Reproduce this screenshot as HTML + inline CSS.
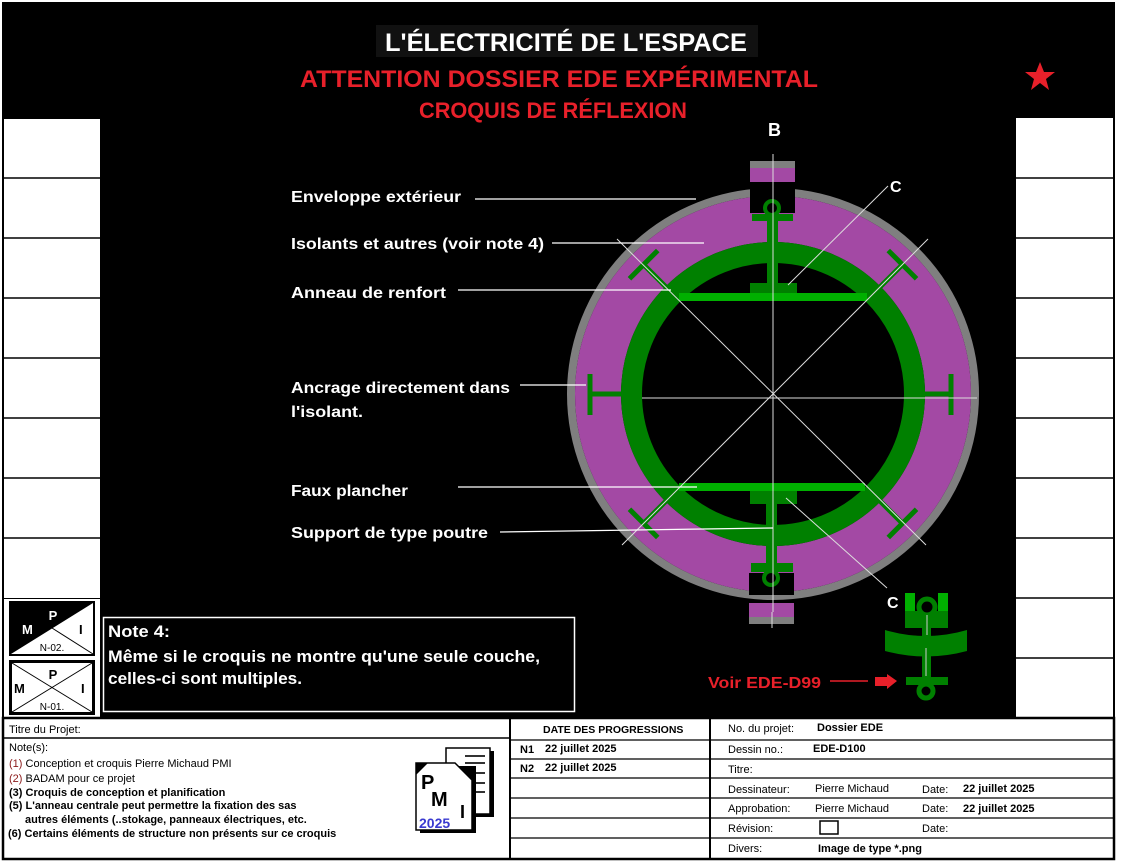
<!DOCTYPE html>
<html><head><meta charset="utf-8"><style>
html,body{margin:0;padding:0;background:#fff;width:1122px;height:868px;overflow:hidden}
svg{display:block}
text{font-family:"Liberation Sans",sans-serif}
</style></head><body>
<svg width="1122" height="868" viewBox="0 0 1122 868" xmlns="http://www.w3.org/2000/svg">
<rect width="1122" height="868" fill="#fff"/>
<rect x="2" y="2" width="1113" height="717" fill="#000"/>
<rect x="4" y="119" width="96" height="479" fill="#fff"/>
<g stroke="#000" stroke-width="1.5">
<line x1="4" y1="178" x2="100" y2="178"/><line x1="4" y1="238" x2="100" y2="238"/><line x1="4" y1="298" x2="100" y2="298"/><line x1="4" y1="358" x2="100" y2="358"/><line x1="4" y1="418" x2="100" y2="418"/><line x1="4" y1="478" x2="100" y2="478"/><line x1="4" y1="538" x2="100" y2="538"/>
</g>
<rect x="4" y="599" width="96" height="119" fill="#fff"/>
<g>
<rect x="9" y="601" width="86" height="55" fill="#000"/>
<polygon points="11,654 93,603 93,654" fill="#fff"/>
<line x1="52" y1="628" x2="93" y2="654" stroke="#000" stroke-width="1"/>
<text x="52" y="651" font-size="10" text-anchor="middle" fill="#000">N-02.</text>
<text x="53" y="620" font-size="13" font-weight="bold" text-anchor="middle" fill="#fff">P</text>
<text x="22" y="634" font-size="13" font-weight="bold" fill="#fff">M</text>
<text x="79" y="634" font-size="13" font-weight="bold" fill="#000">I</text>
<rect x="10.5" y="661.5" width="83" height="52" fill="#fff" stroke="#000" stroke-width="3"/>
<line x1="12" y1="663" x2="92" y2="712" stroke="#000" stroke-width="1"/>
<line x1="92" y1="663" x2="12" y2="712" stroke="#000" stroke-width="1"/>
<text x="52" y="710" font-size="10" text-anchor="middle" fill="#000">N-01.</text>
<text x="53" y="679" font-size="13" font-weight="bold" text-anchor="middle" fill="#000">P</text>
<text x="14" y="693" font-size="13" font-weight="bold" fill="#000">M</text>
<text x="81" y="693" font-size="13" font-weight="bold" fill="#000">I</text>
</g>
<rect x="1016" y="118" width="97" height="600" fill="#fff"/>
<g stroke="#000" stroke-width="1.5">
<line x1="1016" y1="178" x2="1113" y2="178"/><line x1="1016" y1="238" x2="1113" y2="238"/><line x1="1016" y1="298" x2="1113" y2="298"/><line x1="1016" y1="358" x2="1113" y2="358"/><line x1="1016" y1="418" x2="1113" y2="418"/><line x1="1016" y1="478" x2="1113" y2="478"/><line x1="1016" y1="538" x2="1113" y2="538"/><line x1="1016" y1="598" x2="1113" y2="598"/><line x1="1016" y1="658" x2="1113" y2="658"/>
</g>
<rect x="376" y="25" width="382" height="32" fill="#111"/>
<text x="566" y="51" font-size="25" font-weight="bold" fill="#fff" text-anchor="middle" textLength="362" lengthAdjust="spacingAndGlyphs">L'ÉLECTRICITÉ DE L'ESPACE</text>
<text x="559" y="87" font-size="24" font-weight="bold" fill="#e8202a" text-anchor="middle" textLength="518" lengthAdjust="spacingAndGlyphs">ATTENTION DOSSIER EDE EXPÉRIMENTAL</text>
<text x="553" y="118" font-size="22" font-weight="bold" fill="#e8202a" text-anchor="middle" textLength="268" lengthAdjust="spacingAndGlyphs">CROQUIS DE RÉFLEXION</text>
<polygon points="1040,62 1044,72 1055,72 1046,79 1049,90 1040,83 1031,90 1034,79 1025,72 1036,72" fill="#e8202a"/>

<circle cx="773" cy="394" r="202" fill="none" stroke="#7f7f7f" stroke-width="8"/>
<circle cx="773" cy="394" r="175" fill="none" stroke="#a349a4" stroke-width="46"/>
<circle cx="773" cy="394" r="141.5" fill="none" stroke="#008000" stroke-width="21"/>
<rect x="750" y="186" width="45" height="27" fill="#000"/>
<rect x="749" y="573" width="45" height="22" fill="#000"/>
<rect x="750" y="161" width="45" height="21" fill="#a349a4"/>
<rect x="750" y="161" width="45" height="7" fill="#7f7f7f"/>
<rect x="749" y="603" width="45" height="21" fill="#a349a4"/>
<rect x="749" y="617" width="45" height="7" fill="#7f7f7f"/>
<rect x="679" y="293" width="188" height="8" fill="#00b000"/>
<rect x="679" y="483" width="186" height="8" fill="#00b000"/>
<g fill="#008000">
<rect x="752" y="214" width="41" height="7"/>
<rect x="767" y="221" width="11" height="70"/>
<rect x="750" y="283" width="47" height="10"/>
<rect x="750" y="491" width="47" height="13"/>
<rect x="766" y="504" width="11" height="60"/>
<rect x="751" y="563" width="42" height="9"/>
</g>
<circle cx="772" cy="208" r="7" fill="none" stroke="#008000" stroke-width="4"/>
<circle cx="771" cy="578" r="7" fill="none" stroke="#008000" stroke-width="4"/>
<g stroke="#008000" stroke-width="5" fill="none">
<line x1="590" y1="374" x2="590" y2="415"/><line x1="590" y1="394" x2="622" y2="394"/>
<line x1="951" y1="374" x2="951" y2="415"/><line x1="951" y1="394" x2="924" y2="394"/>
<g transform="rotate(45 773 394)"><line x1="590" y1="374" x2="590" y2="414"/><line x1="590" y1="394" x2="622" y2="394"/><line x1="956" y1="374" x2="956" y2="414"/><line x1="956" y1="394" x2="924" y2="394"/></g>
<g transform="rotate(-45 773 394)"><line x1="590" y1="374" x2="590" y2="414"/><line x1="590" y1="394" x2="622" y2="394"/><line x1="956" y1="374" x2="956" y2="414"/><line x1="956" y1="394" x2="924" y2="394"/></g>
</g>
<g stroke="#ddd" stroke-width="1">
<line x1="617" y1="239" x2="926" y2="545"/>
<line x1="928" y1="239" x2="622" y2="545"/>
<line x1="773" y1="154" x2="773" y2="612"/>
<line x1="772" y1="612" x2="772" y2="628"/>
<line x1="642" y1="398" x2="977" y2="398"/>
<line x1="888" y1="186" x2="788" y2="285"/>
<line x1="786" y1="498" x2="887" y2="588"/>
</g>
<g stroke="#fff" stroke-width="1.3">
<line x1="475" y1="199" x2="696" y2="199"/>
<line x1="552" y1="243" x2="704" y2="243"/>
<line x1="458" y1="290" x2="671" y2="290"/>
<line x1="520" y1="385" x2="586" y2="385"/>
<line x1="458" y1="487" x2="697" y2="487"/>
<line x1="500" y1="532" x2="773" y2="528"/>
</g>
<g font-size="16" font-weight="bold" fill="#fff">
<text x="291" y="202" textLength="170" lengthAdjust="spacingAndGlyphs">Enveloppe extérieur</text>
<text x="291" y="249" textLength="253" lengthAdjust="spacingAndGlyphs">Isolants et autres (voir note 4)</text>
<text x="291" y="298" textLength="155" lengthAdjust="spacingAndGlyphs">Anneau de renfort</text>
<text x="291" y="393" textLength="219" lengthAdjust="spacingAndGlyphs">Ancrage directement dans</text>
<text x="291" y="417" textLength="72" lengthAdjust="spacingAndGlyphs">l'isolant.</text>
<text x="291" y="496" textLength="117" lengthAdjust="spacingAndGlyphs">Faux plancher</text>
<text x="291" y="538" textLength="197" lengthAdjust="spacingAndGlyphs">Support de type poutre</text>
<text x="768" y="136" font-size="18">B</text>
<text x="890" y="192">C</text>
<text x="887" y="608">C</text>
</g>
<rect x="905" y="593" width="10" height="20" fill="#00b000"/>
<rect x="938" y="593" width="10" height="20" fill="#00b000"/>
<rect x="905" y="611" width="43" height="17" fill="#008000"/>
<path d="M885,630 Q926,642 967,630 L967,651 Q926,662 885,651 Z" fill="#008000"/>
<rect x="922" y="625" width="9" height="55" fill="#008000"/>
<rect x="906" y="677" width="42" height="8" fill="#008000"/>
<circle cx="927" cy="607" r="8" fill="#000" stroke="#008000" stroke-width="5"/>
<circle cx="926" cy="691" r="7" fill="#000" stroke="#008000" stroke-width="5"/>
<line x1="927" y1="615" x2="927" y2="635" stroke="#ccc" stroke-width="1"/>
<line x1="926" y1="648" x2="926" y2="676" stroke="#ccc" stroke-width="1"/>
<text x="708" y="688" font-size="16" font-weight="bold" fill="#e8202a" textLength="113" lengthAdjust="spacingAndGlyphs">Voir EDE-D99</text>
<line x1="830" y1="681" x2="868" y2="681" stroke="#e8202a" stroke-width="1.5"/>
<polygon points="875,677 887,677 887,674 897,681 887,689 887,686 875,686" fill="#e8202a"/>
<rect x="103.5" y="617.5" width="471" height="94" fill="#000" stroke="#fff" stroke-width="1.5"/>
<g font-size="17" font-weight="bold" fill="#fff">
<text x="108" y="637" textLength="62" lengthAdjust="spacingAndGlyphs">Note 4:</text>
<text x="108" y="662" textLength="432" lengthAdjust="spacingAndGlyphs">Même si le croquis ne montre qu'une seule couche,</text>
<text x="108" y="684" textLength="194" lengthAdjust="spacingAndGlyphs">celles-ci sont multiples.</text>
</g>

<rect x="3" y="718" width="1111" height="141" fill="#fff" stroke="#000" stroke-width="2.5"/>
<line x1="3" y1="738" x2="510" y2="738" stroke="#000" stroke-width="1.5"/>
<line x1="510" y1="718" x2="510" y2="859" stroke="#000" stroke-width="2"/>
<line x1="710" y1="718" x2="710" y2="859" stroke="#000" stroke-width="2"/>
<g stroke="#000" stroke-width="1.3">
<line x1="510" y1="740" x2="1114" y2="740"/>
<line x1="510" y1="759" x2="1114" y2="759"/>
<line x1="510" y1="778" x2="1114" y2="778"/>
<line x1="510" y1="798" x2="1114" y2="798"/>
<line x1="510" y1="818" x2="1114" y2="818"/>
<line x1="510" y1="838" x2="1114" y2="838"/>
</g>
<g font-size="11" fill="#000">
<text x="9" y="733">Titre du Projet:</text>
<text x="9" y="751">Note(s):</text>
<text x="9" y="767"><tspan fill="#8b1a1a">(1)</tspan> Conception et croquis Pierre Michaud PMI</text>
<text x="9" y="782"><tspan fill="#8b1a1a">(2)</tspan> BADAM pour ce projet</text>
<g font-weight="bold">
<text x="9" y="796">(3) Croquis de conception et planification</text>
<text x="9" y="809">(5) L'anneau centrale peut permettre la fixation des sas</text>
<text x="25" y="823">autres éléments (..stokage, panneaux électriques, etc.</text>
<text x="8" y="837">(6) Certains éléments de structure non présents sur ce croquis</text>
<text x="543" y="733" font-size="10.5">DATE DES PROGRESSIONS</text>
<text x="520" y="753">N1</text><text x="545" y="752">22 juillet 2025</text>
<text x="520" y="772">N2</text><text x="545" y="771">22 juillet 2025</text>
<text x="817" y="731">Dossier EDE</text>
<text x="813" y="752">EDE-D100</text>
<text x="963" y="792">22 juillet 2025</text>
<text x="963" y="812">22 juillet 2025</text>
<text x="818" y="852">Image de type *.png</text>
</g>
<text x="728" y="732">No. du projet:</text>
<text x="728" y="753">Dessin no.:</text>
<text x="728" y="773">Titre:</text>
<text x="728" y="793">Dessinateur:</text><text x="815" y="792">Pierre Michaud</text><text x="922" y="793">Date:</text>
<text x="728" y="812">Approbation:</text><text x="815" y="812">Pierre Michaud</text><text x="922" y="812">Date:</text>
<text x="728" y="832">Révision:</text><text x="922" y="832">Date:</text>
<text x="728" y="852">Divers:</text>
</g>
<rect x="820" y="821" width="18" height="13" fill="#fff" stroke="#000" stroke-width="1.5"/>
<g>
<polygon points="449,751 494,751 494,817 449,817" fill="#000"/>
<polygon points="446,748 490,748 490,814 446,814" fill="#fff" stroke="#000" stroke-width="1.5"/>
<g stroke="#333" stroke-width="2"><line x1="465" y1="756" x2="485" y2="756"/><line x1="465" y1="763" x2="485" y2="763"/><line x1="468" y1="773" x2="485" y2="773"/><line x1="472" y1="783" x2="485" y2="783"/><line x1="472" y1="792" x2="485" y2="792"/></g>
<polygon points="420,766 476,766 476,833 420,833" fill="#000"/>
<polygon points="416,763 455,763 472,780 472,830 416,830" fill="#fff" stroke="#000" stroke-width="1.5"/>
<polygon points="416,763 428,763 416,775" fill="#000"/>
<text x="421" y="789" font-size="20" font-weight="bold" fill="#000">P</text>
<text x="431" y="806" font-size="20" font-weight="bold" fill="#000">M</text>
<text x="460" y="818" font-size="18" font-weight="bold" fill="#000">I</text>
<text x="419" y="828" font-size="14" font-weight="bold" fill="#3a3ad0">2025</text>
</g>
</svg>
</body></html>
